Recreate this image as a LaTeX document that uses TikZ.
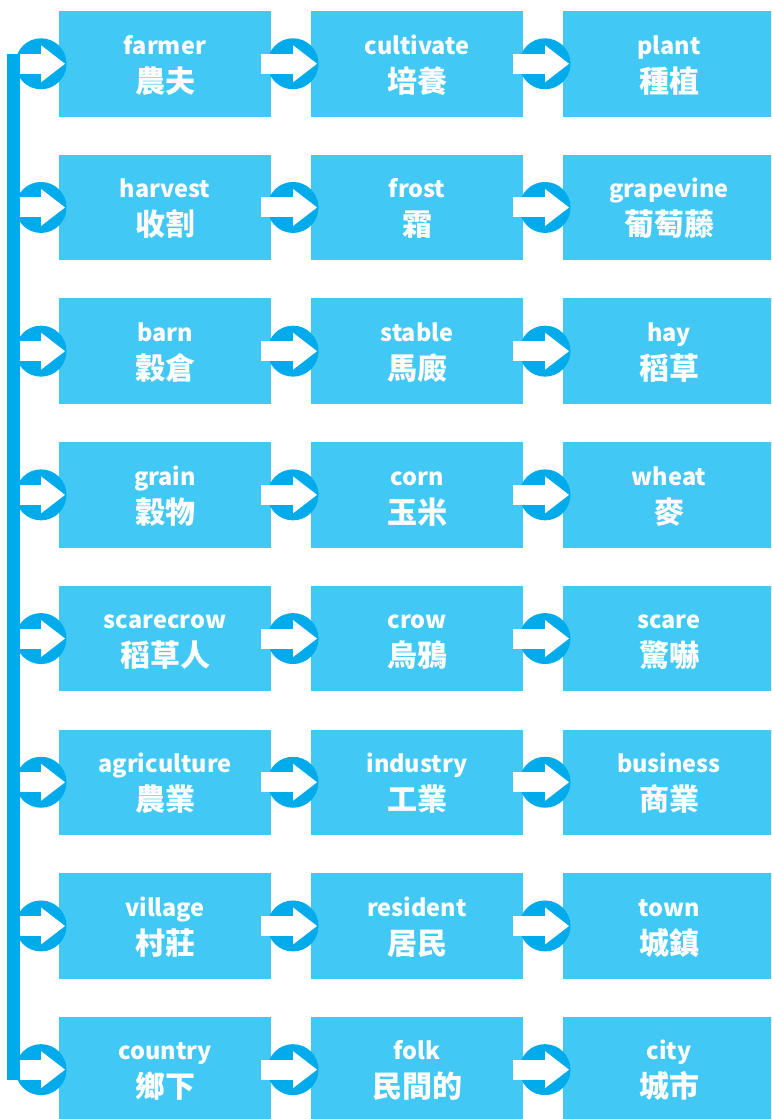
\documentclass[tikz,border=0pt]{standalone}
\usepackage{fontspec}
\newfontfamily\cjk{Noto Sans CJK TC}
\usetikzlibrary{arrows.meta}
\definecolor{boxblue}{RGB}{66,200,244}
\definecolor{darkblue}{RGB}{0,171,236}
\tikzset{
  box/.style={fill=boxblue, draw=none, minimum width=212pt, minimum height=105.5pt, inner sep=0pt, outer sep=0pt},
  ring/.style={circle, fill=darkblue, draw=none, minimum size=51pt, inner sep=0pt, outer sep=0pt},
  entext/.style={text=white, font=\cjk\bfseries\fontsize{23.5}{23.5}\selectfont, anchor=base, inner sep=0pt},
  zhtext/.style={text=white, font=\cjk\bfseries\fontsize{30}{30}\selectfont, anchor=base, inner sep=0pt},
  flow/.style={draw=white, line width=20pt, -{Triangle[length=24pt,width=37pt,line width=0pt]}},
  rail/.style={draw=darkblue, line width=13pt},
}
\begin{document}
\begin{tikzpicture}[x=1pt,y=-1pt]
\useasboundingbox (0,0) rectangle (771,1119);
\clip (0,0) rectangle (771,1119);
\foreach \en/\zh [count=\i from 0] in {
  farmer/農夫, cultivate/培養, plant/種植,
  harvest/收割, frost/霜, grapevine/葡萄藤,
  barn/穀倉, stable/馬廄, hay/稻草,
  grain/穀物, corn/玉米, wheat/麥,
  scarecrow/稻草人, crow/烏鴉, scare/驚嚇,
  agriculture/農業, industry/工業, business/商業,
  village/村莊, resident/居民, town/城鎮,
  country/鄉下, folk/民間的, city/城市} {
  \pgfmathtruncatemacro\r{\i/3}
  \pgfmathtruncatemacro\c{mod(\i,3)}
  \node[box] (b\r\c) at ({165+252*\c},{63.75+143.7*\r}) {};
  \node[entext] (e\r\c) at ([yshift=-43pt]b\r\c.north) {\en};
  \node[zhtext] (z\r\c) at ([yshift=-81pt]b\r\c.north) {\zh};
  \node[ring] (c\r\c) at ({41+252*\c},{63.75+143.7*\r}) {};
  \draw[flow] ([xshift=-32.5pt]c\r\c.center) -- ([xshift=24pt]c\r\c.center);
}
\coordinate (railtop) at (13.5,53.75);
\coordinate (railbot) at (13.5,1079.8);
\draw[rail] (railtop) -- (railbot);
\end{tikzpicture}
\end{document}
